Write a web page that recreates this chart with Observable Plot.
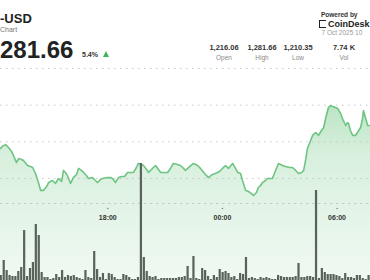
<!DOCTYPE html>
<html><head><meta charset="utf-8">
<script src="https://cdn.jsdelivr.net/npm/d3@7"></script>
<script src="https://cdn.jsdelivr.net/npm/@observablehq/plot@0.6"></script>
<style>
html,body{margin:0;padding:0;background:#fff;}
#wrap{position:relative;width:370px;height:280px;overflow:hidden;font-family:"Liberation Sans",Arial,sans-serif;}
#wrap svg{position:absolute;left:0;top:0;}
.t{position:absolute;white-space:nowrap;line-height:1;}
.c{transform:translateX(-50%);}
.v{font-size:7.5px;font-weight:700;color:#333;top:44.3px;}
.l{font-size:6.5px;color:#8a8a8a;top:55.3px;}
</style></head><body>
<div id="wrap">
  <div id="charts"></div>
  <div class="t" style="left:0;top:11.6px;font-size:13px;font-weight:700;color:#222;">-USD</div>
  <div class="t" style="left:0;top:25.9px;font-size:7px;color:#777;">Chart</div>
  <div class="t" style="left:0;top:37.7px;font-size:24px;font-weight:700;color:#222;">281.66</div>
  <div class="t" style="left:82px;top:50.6px;font-size:7px;font-weight:700;color:#333;">5.4%</div>
  <div style="position:absolute;left:102.5px;top:51px;width:0;height:0;border-left:3.5px solid transparent;border-right:3.5px solid transparent;border-bottom:6px solid #3fb55a;"></div>
  <div class="t" style="left:321px;top:11.8px;font-size:6.5px;font-weight:700;color:#333;">Powered by</div>
  <div style="position:absolute;left:318.5px;top:19.8px;width:6px;height:6.5px;border:1.3px solid #222;border-right:none;"></div>
  <div class="t" style="left:328px;top:19.6px;font-size:9px;font-weight:700;color:#222;">CoinDesk</div>
  <div class="t" style="left:321.5px;top:30.3px;font-size:6.5px;color:#9a9a9a;">7 Oct 2025 10</div>
  <div class="t c v" style="left:224px;">1,216.06</div>
  <div class="t c v" style="left:262px;">1,281.66</div>
  <div class="t c v" style="left:298px;">1,210.35</div>
  <div class="t c v" style="left:344px;">7.74 K</div>
  <div class="t c l" style="left:224px;">Open</div>
  <div class="t c l" style="left:262px;">High</div>
  <div class="t c l" style="left:298px;">Low</div>
  <div class="t c l" style="left:344px;">Vol</div>
</div>
<script>
const lineTimes = ["12:23","12:29","12:39","12:48","12:58","13:04","13:13","13:20","13:29","13:35",
"13:48","13:57","14:04","14:13","14:22","14:29","14:38","14:48","14:54","15:06",
"15:16","15:25","15:35","15:41","15:47","15:53","16:03","16:12","16:22","16:28",
"16:37","16:44","16:53","16:59","17:12","17:21","17:28","17:37","17:43","17:59",
"18:09","18:15","18:24","18:34","18:43","18:53","19:02","19:11","19:21","19:30",
"19:36","19:46","19:52","20:02","20:08","20:17","20:30","20:39","20:46","20:55",
"21:08","21:17","21:26","21:39","21:48","21:58","22:04","22:17","22:29","22:42",
"22:51","23:04","23:16","23:29","23:38","23:51","00:00","00:10","00:19","00:32",
"00:41","00:48","00:57","01:03","01:13","01:22","01:31","01:38","01:47","01:53",
"02:00","02:06","02:15","02:22","02:31","02:37","02:47","02:56","03:09","03:18",
"03:31","03:40","03:50","03:59","04:09","04:15","04:21","04:27","04:37","04:43",
"04:53","05:02","05:11","05:18","05:24","05:33","05:40","05:46","05:55","06:02",
"06:11","06:17","06:27","06:33","06:36","06:42","06:49","06:58","07:04","07:14",
"07:20","07:23","07:30","07:36","07:45"];

const linePrices = [1256.4,1257.5,1258.5,1256.9,1254.7,1252.5,1248.7,1250.9,1250.4,1249.8,
1247.1,1246.5,1246.0,1242.7,1237.8,1233.5,1233.5,1235.6,1237.8,1238.9,
1237.3,1240.0,1238.4,1244.4,1243.3,1241.6,1237.3,1240.5,1242.2,1245.5,
1244.4,1243.3,1241.6,1240.0,1240.5,1238.9,1237.8,1239.5,1240.0,1240.5,
1240.5,1240.0,1237.8,1240.5,1241.1,1241.1,1243.3,1243.3,1243.3,1246.0,
1248.2,1247.6,1247.1,1244.9,1243.3,1244.9,1247.1,1244.9,1243.3,1243.3,
1243.3,1245.5,1248.2,1247.6,1247.1,1245.5,1244.4,1246.5,1248.2,1247.1,
1245.5,1242.7,1240.5,1242.2,1242.7,1243.8,1245.5,1247.1,1245.5,1248.2,
1245.5,1243.3,1242.7,1238.9,1233.5,1232.9,1231.8,1230.7,1232.4,1235.1,
1236.2,1237.8,1238.9,1240.0,1240.0,1240.0,1244.4,1248.2,1247.1,1246.5,
1246.0,1246.0,1244.4,1242.7,1243.3,1244.4,1249.8,1256.4,1260.7,1263.5,
1265.1,1263.5,1266.2,1267.8,1272.7,1278.7,1279.8,1279.3,1278.7,1278.2,
1275.5,1272.7,1268.9,1270.5,1270.0,1266.2,1263.5,1263.5,1265.1,1267.8,
1272.7,1277.1,1272.7,1268.9,1268.9];

const volumes = [5,20,10,5,4,4,9,13,50,4,
12,18,56,45,8,3,3,1,2,6,
3,10,3,5,4,5,3,2,1,10,
3,2,29,11,3,7,1,7,6,3,
1,1,6,5,3,1,1,3,117,23,
9,4,3,4,1,2,2,2,2,2,
2,3,3,4,14,2,24,2,1,12,
10,4,1,5,3,11,8,9,7,3,
4,1,7,6,23,2,3,2,1,3,
2,3,2,1,1,5,4,3,3,3,
3,4,17,3,3,4,4,3,90,2,
12,8,6,6,6,5,4,2,7,3,
3,2,5,5,2,1,5];

const tickTimes = ["18:00","00:00","06:00"];
const priceGrid = [1240,1260,1280,1300];

function parseT(s){
  const [h,m] = s.split(":").map(Number);
  return new Date(Date.UTC(2025, 9, h >= 12 ? 6 : 7, h, m));
}
const W = 370, H = 280;
const xDomain = [parseT("12:23"), parseT("07:45")];
const lineData = lineTimes.map((s,i)=>({t: parseT(s), p: linePrices[i]}));
const barStart = Date.UTC(2025, 9, 6, 12, 20, 56);
const barStep = 550 * 1000;
const bars = volumes.map((v,i)=>({x1: new Date(barStart + i*barStep), x2: new Date(barStart + (i+1)*barStep), v}));
const ticks = tickTimes.map(parseT);
const fmt = d3.utcFormat("%H:%M");
const dotted = {stroke:"#c6c6c6", strokeOpacity:1, strokeWidth:1, strokeDasharray:"1.5,4.5"};

const defs = () => {
  const d = d3.create("svg:defs");
  const g = d.append("linearGradient").attr("id","pg").attr("gradientUnits","userSpaceOnUse")
    .attr("x1",0).attr("x2",0).attr("y1",105).attr("y2",280);
  g.append("stop").attr("offset",0).attr("stop-color","#6cc480").attr("stop-opacity",0.45);
  g.append("stop").attr("offset",0.3).attr("stop-color","#6cc480").attr("stop-opacity",0.26);
  g.append("stop").attr("offset",1).attr("stop-color","#6cc480").attr("stop-opacity",0.1);
  return d.node();
};

const pricePlot = Plot.plot({
  width: W, height: H,
  marginTop: 0, marginLeft: 0, marginRight: 0, marginBottom: 77,
  style: {fontFamily: "Liberation Sans, Arial, sans-serif", background: "transparent", overflow: "visible"},
  x: {type: "utc", domain: xDomain, range: [0, W], axis: null},
  y: {domain: [1240, 1300], range: [178, 68], axis: null},
  marks: [
    defs,
    Plot.areaY(lineData, {x: "t", y1: 1180, y2: "p", fill: "url(#pg)"}),
    Plot.gridY(priceGrid, dotted),
    Plot.frame({anchor: "bottom", ...dotted}),
    Plot.line(lineData, {x: "t", y: "p", stroke: "#6ec583", strokeWidth: 1.6}),
    Plot.dot(ticks, {x: d=>d, frameAnchor: "bottom", dy: 5, r: 0.8, fill: "#888", stroke: null}),
    Plot.text(ticks, {x: d=>d, frameAnchor: "bottom", dy: 16, text: d=>fmt(d), fontSize: 7, fontWeight: 700, fill: "#333"})
  ]
});

const volPlot = Plot.plot({
  width: W, height: H, margin: 0,
  style: {background: "transparent", overflow: "visible"},
  x: {type: "utc", domain: xDomain, range: [0, W], axis: null},
  y: {domain: [0, 280], range: [280, 0], axis: null},
  marks: [
    Plot.rectY(bars, {x1: "x1", x2: "x2", y: "v", fill: "#59635b", insetLeft: 0.35, insetRight: 0.35})
  ]
});

const c = document.getElementById("charts");
c.appendChild(pricePlot);
c.appendChild(volPlot);
</script>
</body></html>
